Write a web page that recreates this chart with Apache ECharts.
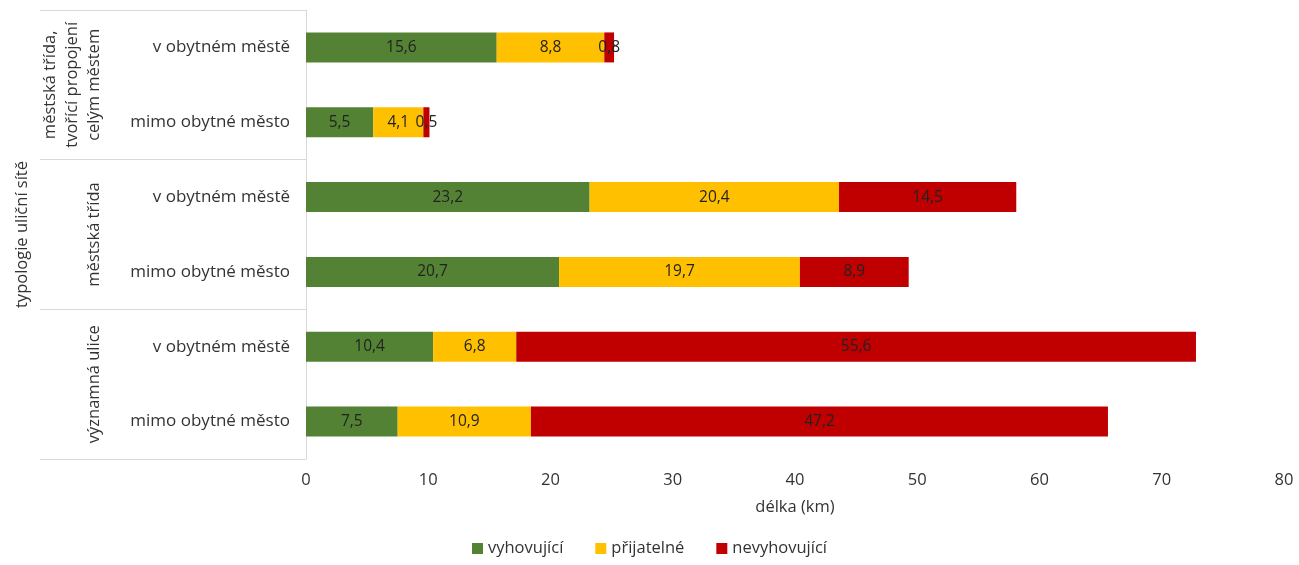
<!DOCTYPE html>
<html>
<head>
<meta charset="utf-8">
<script src="https://cdn.jsdelivr.net/npm/echarts@6/dist/echarts.min.js"></script>
<style>
	html, body { margin: 0; padding: 0; background: #fff; }
	#chart { width: 1299px; height: 565px; }
</style>
</head>
<body>
<div id="chart"></div>
<script>
	var categories = ['v obytném městě', 'mimo obytné město', 'v obytném městě', 'mimo obytné město', 'v obytném městě', 'mimo obytné město'];
	var groups = ['městská třída,\ntvořící propojení\ncelým městem', 'městská třída', 'významná ulice'];
	var seriesNames = ['vyhovující', 'přijatelné', 'nevyhovující'];
	var vyhovujici = [15.6, 5.5, 23.2, 20.7, 10.4, 7.5];
	var prijatelne = [8.8, 4.1, 20.4, 19.7, 6.8, 10.9];
	var nevyhovujici = [0.8, 0.5, 14.5, 8.9, 55.6, 47.2];
	var xTicks = [0, 80, 10];

	var font = '"Open Sans", sans-serif';
	var colors = ['#548235', '#FFC000', '#C00000'];
	var lineColor = '#d9d9d9';

	function makeSeries(name, data, idx) {
		return {
			name: name,
			type: 'bar',
			stack: 'total',
			barWidth: 30,
			itemStyle: { color: colors[idx] },
			label: {
				show: true,
				position: 'inside',
				color: '#222',
				fontFamily: font,
				fontSize: 15.5,
				formatter: function (p) {
					return String(p.value).replace('.', ',');
				}
			},
			data: data
		};
	}

	var myChart = echarts.init(document.getElementById('chart'));
	var option = {
		animation: false,
		textStyle: { fontFamily: font },
		grid: {
			left: 306,
			right: 15,
			top: 10,
			height: 449,
			containLabel: false
		},
		legend: {
			bottom: 3,
			left: 'center',
			itemWidth: 11,
			itemHeight: 11,
			itemGap: 32,
			icon: 'rect',
			textStyle: { color: '#333', fontSize: 16.5, fontFamily: font },
			data: seriesNames
		},
		xAxis: {
			type: 'value',
			min: xTicks[0],
			max: xTicks[1],
			interval: xTicks[2],
			name: 'délka (km)',
			nameLocation: 'middle',
			nameGap: 40,
			nameTextStyle: { color: '#333', fontSize: 16.5, fontFamily: font },
			axisLine: { show: false },
			axisTick: { show: false },
			splitLine: { show: false },
			axisLabel: { color: '#333', fontSize: 16.5, margin: 13 }
		},
		yAxis: [{
			type: 'category',
			inverse: true,
			data: categories,
			axisLine: { show: true, lineStyle: { color: lineColor } },
			axisTick: { show: false },
			axisLabel: { interval: 0, color: '#333', fontSize: 17, margin: 16 }
		}, {
			type: 'category',
			inverse: true,
			position: 'left',
			offset: 0,
			data: groups,
			name: 'typologie uliční sítě',
			nameLocation: 'middle',
			nameRotate: 90,
			nameGap: 264,
			nameTextStyle: { color: '#333', fontSize: 16.5, fontFamily: font, padding: [12, 0, 0, 0] },
			axisLine: { show: false },
			axisTick: { show: true, interval: 0, length: 266, lineStyle: { color: lineColor } },
			axisLabel: {
				interval: 0,
				hideOverlap: false,
				rotate: 90,
				color: '#333',
				fontSize: 16.5,
				lineHeight: 22,
				margin: 201,
				align: 'center',
				verticalAlign: 'bottom'
			}
		}],
		series: [
			makeSeries(seriesNames[0], vyhovujici, 0),
			makeSeries(seriesNames[1], prijatelne, 1),
			makeSeries(seriesNames[2], nevyhovujici, 2)
		]
	};
	myChart.setOption(option);
</script>
</body>
</html>
